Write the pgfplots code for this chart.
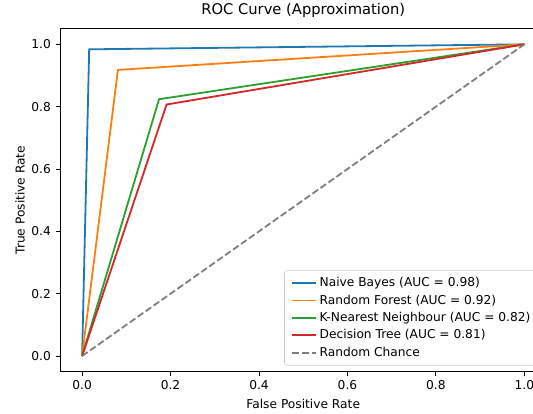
\documentclass[border=0pt]{standalone}
\usepackage{fontspec}
\setmainfont{DejaVu Sans}
\usepackage{pgfplots}
\pgfplotsset{compat=1.18}
\definecolor{tabblue}{HTML}{1F77B4}
\definecolor{taborange}{HTML}{FF7F0E}
\definecolor{tabgreen}{HTML}{2CA02C}
\definecolor{tabred}{HTML}{D62728}
\definecolor{tabgray}{HTML}{7F7F7F}
\definecolor{legframe}{HTML}{CCCCCC}
\begin{document}
\begin{tikzpicture}
\begin{axis}[
  scale only axis,
  width=350.3pt, height=246.9pt,
  at={(0,0)}, anchor=south west,
  xmin=-0.05, xmax=1.05, ymin=-0.05, ymax=1.05,
  xtick={0,0.2,0.4,0.6,0.8,1.0},
  ytick={0,0.2,0.4,0.6,0.8,1.0},
  /pgf/number format/assume math mode=true,
  /pgf/number format/.cd, fixed, fixed zerofill, precision=1, /pgfplots/.cd,
  tick align=outside, tick pos=left,
  major tick length=3.1pt,
  every tick/.style={black, line width=0.7pt},
  axis line style={line width=0.7pt},
  ticklabel style={font=\fontsize{8.8}{10.5}\selectfont},
  title={ROC Curve (Approximation)},
  title style={font=\fontsize{10.6}{12.5}\selectfont, at={(axis description cs:0.5,1)}, anchor=base, yshift=4.5pt},
  xlabel={False Positive Rate},
  ylabel={True Positive Rate},
  label style={font=\fontsize{8.8}{10.5}\selectfont},
  xlabel style={at={(axis description cs:0.5,0)}, anchor=center, yshift=-23pt},
  ylabel style={at={(axis description cs:0,0.5)}, anchor=center, yshift=28.8pt},
  legend style={at={(1,0)}, anchor=south east, xshift=-4.4pt, yshift=4.4pt,
    draw=legframe, rounded corners=2pt, font=\fontsize{8.8}{10.5}\selectfont,
    inner xsep=5pt, inner ysep=3pt, row sep=0.3pt},
  legend cell align=left,
  legend image post style={line width=1.3pt},
]
\addplot[tabblue, line width=1.3pt] coordinates {(0,0) (0.016,0.984) (1,1)};
\addlegendentry{Naive Bayes (AUC = 0.98)}
\addplot[taborange, line width=1.3pt] coordinates {(0,0) (0.081,0.918) (1,1)};
\addlegendentry{Random Forest (AUC = 0.92)}
\addplot[tabgreen, line width=1.3pt] coordinates {(0,0) (0.174,0.824) (1,1)};
\addlegendentry{K-Nearest Neighbour (AUC = 0.82)}
\addplot[tabred, line width=1.3pt] coordinates {(0,0) (0.191,0.807) (1,1)};
\addlegendentry{Decision Tree (AUC = 0.81)}
\addplot[tabgray, line width=1.3pt, dash pattern=on 4.9pt off 2.1pt] coordinates {(0,0) (1,1)};
\addlegendentry{Random Chance}
\end{axis}
\pgfresetboundingbox
\path[use as bounding box] (-43.2pt,-30.5pt) rectangle (340.6pt,267.6pt);
\end{tikzpicture}
\end{document}
